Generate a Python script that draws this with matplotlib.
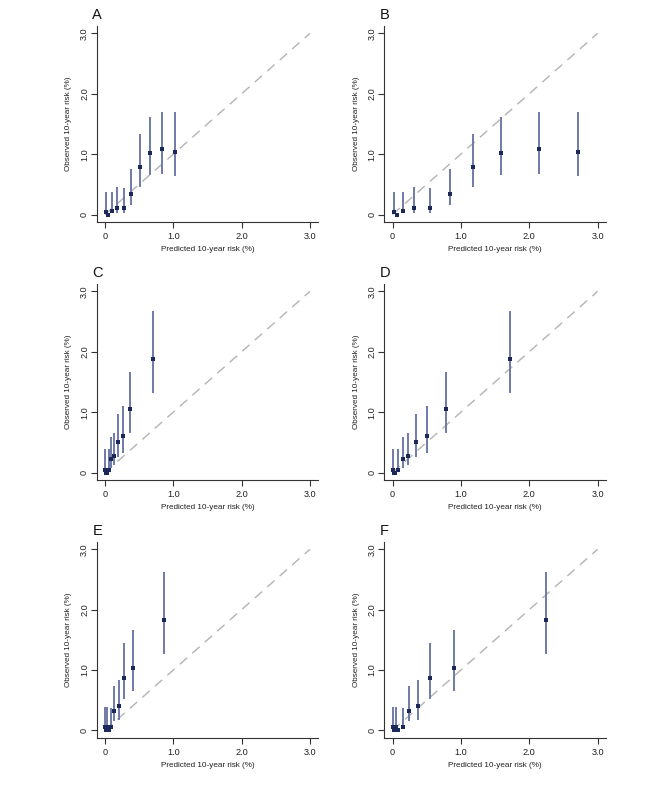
import numpy as np
import matplotlib
matplotlib.use("Agg")
import matplotlib.pyplot as plt

plt.rcParams['font.family'] = ['Liberation Sans', 'DejaVu Sans']

nan = np.nan

# panels A / B : same observed risk, two sets of predictions
obs_ab = [0.05, 0.0, 0.055, 0.11, 0.11, 0.34, 0.79, 1.02, 1.08, 1.04]
lo_ab = [0.02, nan, 0.02, 0.03, 0.02, 0.15, 0.46, 0.65, 0.67, 0.64]
hi_ab = [0.38, nan, 0.38, 0.45, 0.44, 0.75, 1.33, 1.61, 1.70, 1.70]
pred_a = [0.02, 0.05, 0.10, 0.17, 0.28, 0.385, 0.51, 0.66, 0.84, 1.02]
pred_b = [0.025, 0.07, 0.15, 0.31, 0.55, 0.84, 1.18, 1.59, 2.15, 2.715]

# panels C / D
obs_cd = [0.045, 0.0, 0.0, 0.045, 0.22, 0.28, 0.51, 0.60, 1.05, 1.88]
lo_cd = [0.02, nan, nan, 0.02, 0.08, 0.12, 0.26, 0.32, 0.66, 1.32]
hi_cd = [0.39, nan, nan, 0.39, 0.59, 0.66, 0.97, 1.10, 1.66, 2.68]
pred_c = [0.005, 0.02, 0.035, 0.06, 0.093, 0.137, 0.19, 0.263, 0.366, 0.70]
pred_d = [0.005, 0.02, 0.04, 0.08, 0.147, 0.225, 0.347, 0.51, 0.78, 1.72]

# panels E / F
obs_ef = [0.05, 0.0, 0.05, 0.0, 0.05, 0.33, 0.40, 0.87, 1.04, 1.83]
lo_ef = [0.02, nan, 0.02, nan, 0.02, 0.15, 0.18, 0.52, 0.66, 1.26]
hi_ef = [0.38, nan, 0.38, nan, 0.37, 0.73, 0.83, 1.44, 1.66, 2.62]
pred_e = [0.005, 0.02, 0.035, 0.06, 0.093, 0.14, 0.20, 0.28, 0.415, 0.86]
pred_f = [0.0, 0.02, 0.045, 0.08, 0.147, 0.235, 0.367, 0.543, 0.90, 2.245]

letters = ['A', 'B', 'C', 'D', 'E', 'F']
preds = [pred_a, pred_b, pred_c, pred_d, pred_e, pred_f]
obs = [obs_ab, obs_ab, obs_cd, obs_cd, obs_ef, obs_ef]
los = [lo_ab, lo_ab, lo_cd, lo_cd, lo_ef, lo_ef]
his = [hi_ab, hi_ab, hi_cd, hi_cd, hi_ef, hi_ef]

ticks = [0, 1, 2, 3]
tick_labels = ['0', '1.0', '2.0', '3.0']

W, H = 666, 799
fig = plt.figure(figsize=(W / 100, H / 100), dpi=100)

col_left = [96.7, 384.3]
row_top = [26.1, 284.1, 542.0]
aw, ah = 221.5, 195.7

bar_col = '#6f7aa7'
pt_col = '#1c2858'
ax_col = '#333333'

for i in range(6):
    r, c = divmod(i, 2)
    ax = fig.add_axes([col_left[c] / W, (H - row_top[r] - ah) / H, aw / W, ah / H])
    ax.plot([0, 3], [0, 3], color='#b3b3b3', lw=1.0, dashes=(7, 5))
    ax.vlines(preds[i], los[i], his[i], color=bar_col, lw=1.4)
    ax.plot(preds[i], obs[i], 's', color=pt_col, ms=2.2, mew=0)
    ax.set_xlim(-0.12, 3.12)
    ax.set_ylim(-0.12, 3.12)
    ax.set_xticks(ticks)
    ax.set_xticklabels(tick_labels)
    ax.set_yticks(ticks)
    ax.set_yticklabels(tick_labels, rotation=90, va='center')
    ax.tick_params(axis='both', direction='out', length=4, width=0.8,
                   color=ax_col, labelcolor='#222222', labelsize=6.6)
    ax.tick_params(axis='x', pad=3.5)
    ax.tick_params(axis='y', pad=1.5)
    for s in ['top', 'right']:
        ax.spines[s].set_visible(False)
    for s in ['left', 'bottom']:
        ax.spines[s].set_color(ax_col)
        ax.spines[s].set_linewidth(0.8)
    ax.set_xlabel('Predicted 10-year risk (%)', fontsize=5.9, color='#222222')
    ax.set_ylabel('Observed 10-year risk (%)', fontsize=5.9, color='#222222')
    ax.xaxis.label.set_verticalalignment('center')
    ax.yaxis.label.set_verticalalignment('center')
    ax.xaxis.set_label_coords(0.5, -28 / ah)
    ax.yaxis.set_label_coords(-28 / aw, 0.5)
    ax.text(-0.02, 1.035, letters[i], transform=ax.transAxes, fontsize=10.5,
            ha='left', va='baseline', color='#111111')

fig.savefig('out.png', dpi=100)
